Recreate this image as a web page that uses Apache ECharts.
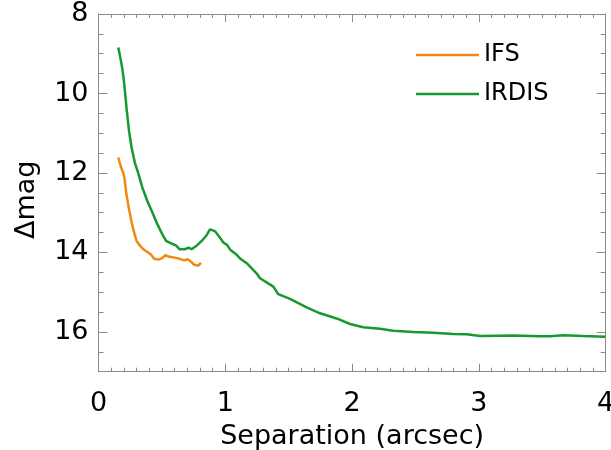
<!DOCTYPE html>
<html>
<head>
<meta charset="utf-8">
<script src="https://cdn.jsdelivr.net/npm/echarts@6/dist/echarts.min.js"></script>
<style>html,body{margin:0;padding:0;background:#fff;}#c{width:611px;height:450px;}</style>
</head>
<body>
<div id="c"></div>
<script>
var seriesNames = ['IFS', 'IRDIS'];
var ifsSep = [0.156,0.177,0.193,0.204,0.220,0.239,0.260,0.279,0.300,0.327,0.354,0.386,0.413,0.439,0.472,0.498,0.528,0.560,0.600,0.640,0.675,0.702,0.728,0.755,0.787,0.808];
var ifsMag = [11.61,11.85,11.98,12.11,12.53,12.88,13.22,13.47,13.71,13.83,13.92,13.99,14.05,14.16,14.18,14.15,14.07,14.11,14.13,14.16,14.20,14.17,14.23,14.31,14.33,14.26];
var irdisSep = [0.156,0.165,0.177,0.188,0.198,0.209,0.222,0.241,0.262,0.288,0.314,0.346,0.386,0.426,0.466,0.506,0.533,0.573,0.613,0.640,0.680,0.712,0.733,0.774,0.814,0.854,0.879,0.894,0.921,0.961,0.984,1.014,1.041,1.090,1.116,1.169,1.248,1.274,1.379,1.418,1.510,1.642,1.747,1.878,1.983,2.088,2.220,2.325,2.483,2.640,2.798,2.904,3.009,3.271,3.482,3.560,3.666,3.823,3.995];
var irdisMag = [8.84,8.98,9.18,9.38,9.62,9.95,10.40,10.95,11.38,11.76,12.01,12.37,12.71,13.00,13.30,13.56,13.71,13.77,13.83,13.92,13.92,13.88,13.92,13.83,13.71,13.56,13.42,13.43,13.47,13.64,13.75,13.81,13.94,14.06,14.15,14.27,14.53,14.65,14.86,15.05,15.17,15.38,15.53,15.66,15.80,15.88,15.92,15.97,16.00,16.02,16.05,16.06,16.10,16.09,16.11,16.11,16.08,16.10,16.12];
var xTicks = [0, 1, 2, 3, 4];
var yTicks = [8, 10, 12, 14, 16];

function pairs(xs, ys) { return xs.map(function (x, i) { return [x, ys[i]]; }); }

var FONT = 'DejaVu Sans';
var axisColor = '#8a8a8a';
function xAx(pos, show) {
  return {
    type: 'value', position: pos, min: xTicks[0], max: xTicks[xTicks.length - 1], interval: 1,
    axisLine: { show: true, onZero: false, lineStyle: { color: axisColor, width: 1 } },
    axisTick: { show: true, inside: true, length: 8, lineStyle: { color: axisColor } },
    minorTick: { show: true, splitNumber: 10, length: 4, lineStyle: { color: axisColor } },
    splitLine: { show: false }, minorSplitLine: { show: false },
    axisLabel: { show: show, margin: 19, fontFamily: FONT, fontSize: 27, color: '#000' },
    name: show ? 'Separation (arcsec)' : '', nameLocation: 'middle', nameGap: 52,
    nameTextStyle: { fontFamily: FONT, fontSize: 27, color: '#000' }
  };
}
function yAx(pos, show) {
  return {
    type: 'value', position: pos, min: 8, max: 17, interval: 2, inverse: true,
    axisLine: { show: true, onZero: false, lineStyle: { color: axisColor, width: 1 } },
    axisTick: { show: true, inside: true, length: 9, lineStyle: { color: axisColor } },
    minorTick: { show: true, splitNumber: 4, length: 5, lineStyle: { color: axisColor } },
    splitLine: { show: false }, minorSplitLine: { show: false },
    axisLabel: { show: show, margin: 10, fontFamily: FONT, fontSize: 27, color: '#000',
      formatter: function (v) { return yTicks.indexOf(v) >= 0 ? String(v) : ''; } },
    name: show ? 'Δmag' : '', nameLocation: 'middle', nameGap: 58, nameRotate: 90,
    nameTextStyle: { fontFamily: FONT, fontSize: 27, color: '#000', padding: [0, 14, 0, 0] }
  };
}

var chart = echarts.init(document.getElementById('c'), null, { renderer: 'canvas' });
chart.setOption({
  animation: false,
  backgroundColor: '#fff',
  grid: { left: 98.5, right: 5.3, top: 14, bottom: 78.3, containLabel: false, outerBoundsMode: 'none' },
  xAxis: [xAx('bottom', true), xAx('top', false)],
  yAxis: [yAx('left', true), yAx('right', false)],
  legend: {
    orient: 'vertical', left: 416, top: 43, itemWidth: 63, itemHeight: 2.5, itemGap: 15, padding: 0,
    icon: 'rect', data: seriesNames,
    textStyle: { fontFamily: FONT, fontSize: 24, color: '#000' }
  },
  series: [
    { name: seriesNames[0], type: 'line', xAxisIndex: 0, yAxisIndex: 0, data: pairs(ifsSep, ifsMag),
      showSymbol: false, symbol: 'none', color: '#EE8A12', lineStyle: { width: 2.5, color: '#EE8A12' } },
    { name: seriesNames[1], type: 'line', xAxisIndex: 0, yAxisIndex: 0, data: pairs(irdisSep, irdisMag),
      showSymbol: false, symbol: 'none', color: '#17992F', lineStyle: { width: 2.5, color: '#17992F' } }
  ]
});
</script>
</body>
</html>
